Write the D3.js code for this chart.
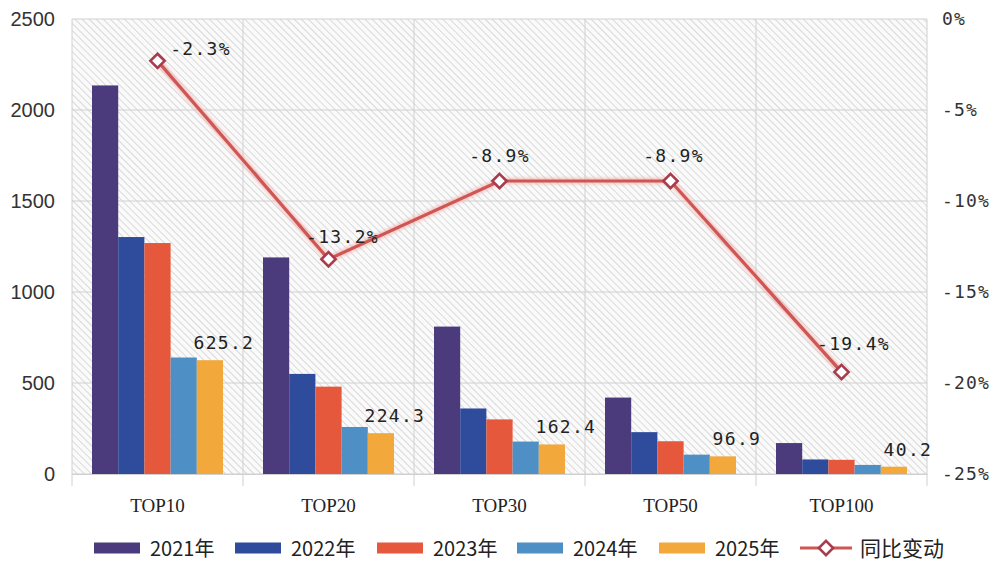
<!DOCTYPE html>
<html>
<head>
<meta charset="utf-8">
<script src="https://cdn.jsdelivr.net/npm/d3@7"></script>
<style>
  html, body { margin: 0; padding: 0; background: #fff; }
  svg { display: block; }
</style>
</head>
<body>
<svg id="chart" width="994" height="567"></svg>
<script>
// Categories and series
const categories = ["TOP10", "TOP20", "TOP30", "TOP50", "TOP100"];
const seriesNames = ["2021年", "2022年", "2023年", "2024年", "2025年"];
const v2021 = [2135, 1190, 810, 420, 170];
const v2022 = [1302, 550, 360, 230, 80];
const v2023 = [1269, 480, 300, 180, 78];
const v2024 = [640, 258.4, 178.3, 106.4, 49.9];
const v2025 = [625.2, 224.3, 162.4, 96.9, 40.2];
const yoyChange = [-2.3, -13.2, -8.9, -8.9, -19.4];   // 同比变动, %
const leftTicks = [0, 500, 1000, 1500, 2000, 2500];
const rightTicks = [0, -5, -10, -15, -20, -25];
const lineName = "同比变动";

const seriesValues = [v2021, v2022, v2023, v2024, v2025];
const colors = ["#4b3b7d", "#2f4c9c", "#e5583b", "#4e90c6", "#f2a83a"];

const svg = d3.select("#chart");
const W = 994, H = 567;
const plot = { left: 72, right: 927, top: 19, bottom: 474 };

svg.append("rect").attr("width", W).attr("height", H).attr("fill", "#fff");

// Diagonal hatch fill of the plotting area
const defs = svg.append("defs");
const pat = defs.append("pattern")
  .attr("id", "hatch").attr("patternUnits", "userSpaceOnUse")
  .attr("width", 5).attr("height", 5)
  .attr("patternTransform", "rotate(45)");
pat.append("rect").attr("width", 5).attr("height", 5).attr("fill", "#fafafa");
pat.append("line").attr("x1", 0).attr("y1", 0).attr("x2", 5).attr("y2", 0)
  .attr("stroke", "#cfcfcf").attr("stroke-width", 1.5);

const glow = defs.append("filter").attr("id", "glow")
  .attr("x", "-20%").attr("y", "-20%").attr("width", "140%").attr("height", "140%");
glow.append("feGaussianBlur").attr("stdDeviation", 1.6);

svg.append("rect")
  .attr("x", plot.left).attr("y", plot.top)
  .attr("width", plot.right - plot.left).attr("height", plot.bottom - plot.top)
  .attr("fill", "url(#hatch)");

// Scales
const x0 = d3.scaleBand().domain(categories).range([plot.left, plot.right]).padding(0);
const groupPad = 20;
const x1 = d3.scaleBand().domain(seriesNames)
  .range([groupPad, x0.bandwidth() - groupPad]).padding(0);
const yL = d3.scaleLinear().domain([0, 2500]).range([plot.bottom, plot.top]);
const yR = d3.scaleLinear().domain([-25, 0]).range([plot.bottom, plot.top]);

// Grid lines
const grid = svg.append("g");
grid.selectAll("line.h").data(leftTicks).join("line")
  .attr("x1", plot.left).attr("x2", plot.right)
  .attr("y1", d => yL(d)).attr("y2", d => yL(d))
  .attr("stroke", "#d0d0d0").attr("stroke-width", 1);
const bounds = categories.map(c => x0(c)).concat([plot.right]);
grid.selectAll("line.v").data(bounds).join("line")
  .attr("x1", d => d).attr("x2", d => d)
  .attr("y1", plot.top).attr("y2", plot.bottom + 12)
  .attr("stroke", "#d0d0d0").attr("stroke-width", 1);

// Bars
const barG = svg.append("g");
seriesNames.forEach((name, si) => {
  barG.append("g").selectAll("rect").data(seriesValues[si]).join("rect")
    .attr("x", (d, i) => x0(categories[i]) + x1(name))
    .attr("y", d => yL(d))
    .attr("width", x1.bandwidth())
    .attr("height", d => yL(0) - yL(d))
    .attr("fill", colors[si]);
});

// Value labels on the 2025 bars
svg.append("g").selectAll("text").data(v2025).join("text")
  .attr("x", (d, i) => x0(categories[i]) + x1("2025年") + x1.bandwidth() / 2 + 14)
  .attr("y", d => yL(d) - 11)
  .attr("text-anchor", "middle")
  .attr("font-family", "'DejaVu Sans Mono', monospace")
  .attr("font-size", 18).attr("letter-spacing", 1.3).attr("fill", "#222")
  .text(d => d.toFixed(1));

// Left axis
const axL = svg.append("g").attr("transform", `translate(${plot.left},0)`)
  .call(d3.axisLeft(yL).tickValues(leftTicks).tickSize(0).tickPadding(17).tickFormat(d3.format("d")));
axL.select(".domain").remove();
axL.selectAll("text").attr("font-family", "'Liberation Sans', Arial, sans-serif")
  .attr("font-size", 20).attr("fill", "#333");

// Right axis
const axR = svg.append("g").attr("transform", `translate(${plot.right},0)`)
  .call(d3.axisRight(yR).tickValues(rightTicks).tickSize(0).tickPadding(15).tickFormat(d => d + "%"));
axR.select(".domain").remove();
axR.selectAll("text").attr("font-family", "'DejaVu Sans Mono', monospace")
  .attr("font-size", 18).attr("fill", "#333").attr("letter-spacing", 1.2);

// Category axis
const axB = svg.append("g").attr("transform", `translate(0,${plot.bottom})`)
  .call(d3.axisBottom(x0).tickSize(0).tickPadding(25));
axB.select(".domain").attr("stroke", "#d0d0d0");
axB.selectAll("text").attr("font-family", "'Liberation Serif', 'DejaVu Serif', serif")
  .attr("font-size", 19).attr("fill", "#222");

// YoY line
const cx = i => x0(categories[i]) + x0.bandwidth() / 2;
const lineGen = d3.line().x((d, i) => cx(i)).y(d => yR(d));
svg.append("path").datum(yoyChange).attr("d", lineGen)
  .attr("fill", "none").attr("stroke", "#f3a7a7").attr("stroke-width", 7)
  .attr("opacity", 0.55).attr("filter", "url(#glow)");
svg.append("path").datum(yoyChange).attr("d", lineGen)
  .attr("fill", "none").attr("stroke", "#cf5753").attr("stroke-width", 3.2);

const diamond = d3.symbol().type(d3.symbolDiamond2).size(130);
svg.append("g").selectAll("path").data(yoyChange).join("path")
  .attr("transform", (d, i) => `translate(${cx(i)},${yR(d)})`)
  .attr("d", diamond)
  .attr("fill", "#fff").attr("stroke", "#a83c4c").attr("stroke-width", 2.6);

// YoY labels
const labelOffset = [[43, -6], [14, -16], [0, -19], [3, -19], [12, -22]];
svg.append("g").selectAll("text").data(yoyChange).join("text")
  .attr("x", (d, i) => cx(i) + labelOffset[i][0])
  .attr("y", (d, i) => yR(d) + labelOffset[i][1])
  .attr("text-anchor", "middle")
  .attr("font-family", "'DejaVu Sans Mono', monospace")
  .attr("font-size", 18).attr("letter-spacing", 1.3).attr("fill", "#222")
  .text(d => d.toFixed(1) + "%");

// Legend
const legend = svg.append("g").attr("transform", "translate(0,548)");
const legendX = [94, 235, 377, 517, 659];
seriesNames.forEach((name, i) => {
  const g = legend.append("g").attr("transform", `translate(${legendX[i]},0)`);
  g.append("rect").attr("x", 0).attr("y", -5.5).attr("width", 46).attr("height", 11).attr("fill", colors[i]);
  g.append("text").attr("x", 56).attr("y", 8)
    .attr("font-family", "'Noto Sans CJK SC', sans-serif")
    .attr("font-size", 20).attr("fill", "#222").text(name);
});
const lg = legend.append("g").attr("transform", "translate(800,0)");
lg.append("line").attr("x1", 0).attr("x2", 52).attr("y1", 0).attr("y2", 0)
  .attr("stroke", "#cf5753").attr("stroke-width", 3.2);
lg.append("path").attr("transform", "translate(26,0)").attr("d", diamond)
  .attr("fill", "#fff").attr("stroke", "#a83c4c").attr("stroke-width", 2.6);
lg.append("text").attr("x", 60).attr("y", 8)
  .attr("font-family", "'Noto Sans CJK SC', sans-serif")
  .attr("font-size", 21).attr("fill", "#222").text(lineName);
</script>
</body>
</html>
